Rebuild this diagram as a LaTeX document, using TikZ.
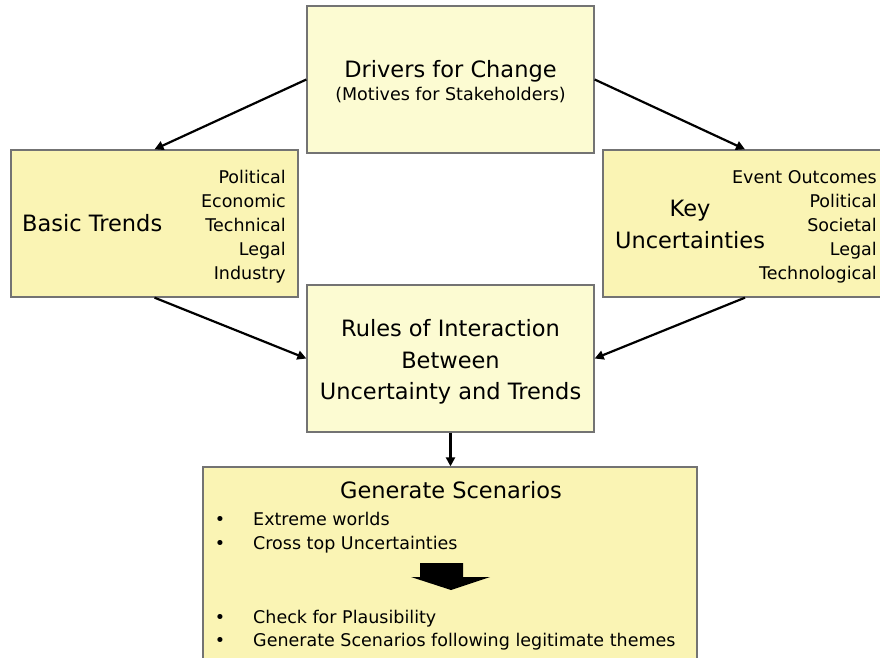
\documentclass[tikz,border=0pt]{standalone}
\usepackage{fontspec}
\setmainfont{DejaVu Sans}
\usetikzlibrary{arrows.meta}
\definecolor{paleyellow}{RGB}{252,251,210}
\definecolor{sandyellow}{RGB}{250,244,180}
\begin{document}
\begin{tikzpicture}[
    x=1pt, y=1pt,
    panel/.style={draw=gray!90!black, line width=1.3pt, fill=sandyellow,
                  minimum width=287pt, minimum height=147pt, inner sep=0pt},
    title/.style={font=\fontsize{22.5}{31.5}\selectfont, inner sep=0pt},
    item/.style={font=\fontsize{17.5}{24}\selectfont, inner sep=0pt},
    link/.style={-{Triangle[length=9pt,width=9pt]}, line width=2.2pt},
  ]
    \useasboundingbox (0,0) rectangle (880,657);

    \node[panel, fill=paleyellow] (drivers) at (450.5,577.5) {};
    \node[panel] (trends) at (154.5,433.5) {};
    \node[panel, minimum width=284pt] (keyunc) at (745,433.5) {};
    \node[panel, fill=paleyellow] (rules) at (450.5,298.5) {};
    \node[panel, minimum width=494pt, minimum height=203pt] (scen) at (450,88.5) {};

    \node[title, anchor=base] (drvtitle) at (450.5,579) {Drivers for Change};
    \node[item, anchor=base] (drvsub) at (450.5,556) {(Motives for Stakeholders)};

    \node[title, anchor=base west] (trtitle) at (22,425) {Basic Trends};
    \foreach \w [count=\i] in {Political,Economic,Technical,Legal,Industry}
      \node[item, anchor=base east] (tr\i) at (286,497.5-24*\i) {\w};

    \node[title, anchor=base] (keytitle) at (690,440.3) {Key};
    \node[title, anchor=base] (keytitleb) at (690,408.7) {Uncertainties};
    \foreach \w [count=\i] in {Event Outcomes,Political,Societal,Legal,Technological}
      \node[item, anchor=base east] (key\i) at (877,497.5-24*\i) {\w};

    \node[title, align=center] (rulestxt) at (450.5,295)
      {Rules of Interaction\\Between\\Uncertainty and Trends};

    \node[title, anchor=base] (scentitle) at (451,158.7) {Generate Scenarios};
    \foreach \w/\yy [count=\i] in {Extreme worlds/132,Cross top Uncertainties/107.7,
        Check for Plausibility/33.7,Generate Scenarios following legitimate themes/10.3}{
      \node[item, anchor=base] (dot\i) at (220,\yy) {\textbullet};
      \node[item, anchor=base west] (step\i) at (253,\yy) {\w};
    }
    \fill (420,94) -- (463,94) -- (463,80) -- (490,80) -- (451,67)
      -- (411,80) -- (420,80) -- cycle;

    \draw[link] (drivers.west) -- (trends.north);
    \draw[link] (drivers.east) -- (keyunc.north);
    \draw[link] (trends.south) -- (rules.west);
    \draw[link] (keyunc.south) -- (rules.east);
    \draw[link] (rules.south) -- (rules.south |- scen.north);
  \end{tikzpicture}
\end{document}
